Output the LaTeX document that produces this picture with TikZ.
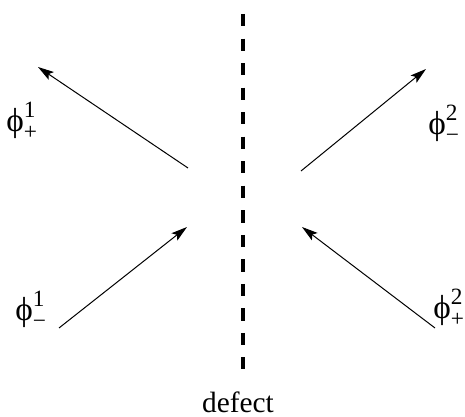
\documentclass[tikz,border=0pt]{standalone}
\usepackage{amsmath}
\usepackage{fontspec}
\setmainfont{Liberation Serif}
\usetikzlibrary{arrows.meta}

\tikzset{every picture/.style={line width=0.75pt}}
\tikzset{
  wave/.style={-{Stealth[length=12pt,width=7pt,inset=2.5pt]}},
  defectline/.style={line width=3pt,dash pattern={on 9.2pt off 9.2pt}},
  lbl/.style={inner sep=0pt,font=\fontsize{25}{30}\selectfont},
  caption/.style={inner sep=0pt,font=\fontsize{22}{26}\selectfont}
}
\newcommand{\fld}[2]{$\text{ϕ}^{\text{#1}}_{\text{#2}}$}

\begin{document}
\begin{tikzpicture}[x=0.75pt,y=0.75pt,yscale=-1,xscale=1]
\useasboundingbox (0,0) rectangle (465,417);

%Straight Lines
\coordinate (dtop) at (243,14);
\coordinate (dbot) at (243,369);
\draw [defectline] (dtop) -- (dbot);

%Straight Lines
\coordinate (ulIn) at (188,168);
\coordinate (ulOut) at (38,67);
\draw [wave] (ulIn) -- (ulOut);
%Straight Lines
\coordinate (llOut) at (59,328);
\coordinate (llIn) at (187,227);
\draw [wave] (llOut) -- (llIn);
%Straight Lines
\coordinate (urIn) at (301,171);
\coordinate (urOut) at (426,69);
\draw [wave] (urIn) -- (urOut);
%Straight Lines
\coordinate (lrOut) at (435,328);
\coordinate (lrIn) at (302,227);
\draw [wave] (lrOut) -- (lrIn);

% Text Node
\node [lbl] (phiOnePlus) at (22,121) {\fld{1}{+}};
% Text Node
\node [lbl] (phiOneMinus) at (31,310) {\fld{1}{−}};
% Text Node
\node [lbl] (phiTwoMinus) at (444,124) {\fld{2}{−}};
% Text Node
\node [lbl] (phiTwoPlus) at (449,308) {\fld{2}{+}};
% Text Node
\node [caption] (defect) at (238,402) {defect};

\end{tikzpicture}
\end{document}
